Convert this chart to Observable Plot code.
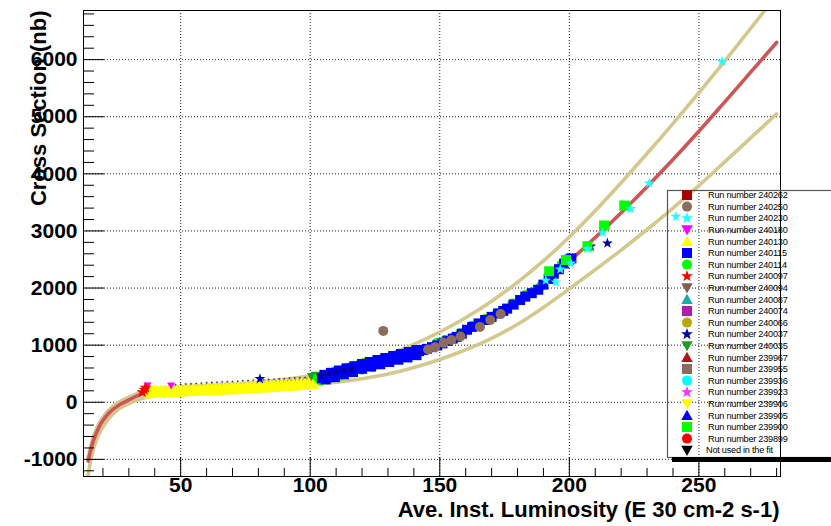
<!DOCTYPE html>
<html><head><meta charset="utf-8">
<script src="https://cdn.jsdelivr.net/npm/d3@7"></script>
<script src="https://cdn.jsdelivr.net/npm/@observablehq/plot@0.6"></script>
<style>
body{margin:0;background:#fff;}
#wrap{position:relative;width:831px;height:526px;overflow:hidden;background:#fff;}
#wrap svg.legend{position:absolute;left:0;top:0;pointer-events:none;}
</style></head><body><div id="wrap"></div>
<script>
// ---------- tick labels ----------
const xMajor = [50, 100, 150, 200, 250];
const xMinor = [20, 30, 40, 60, 70, 80, 90, 110, 120, 130, 140, 160, 170, 180, 190, 210, 220, 230, 240, 260, 270, 280];
const yMajor = [-1000, 0, 1000, 2000, 3000, 4000, 5000, 6000];
const yMinor = [-1200, -800, -600, -400, -200, 200, 400, 600, 800, 1200, 1400, 1600, 1800, 2200, 2400, 2600, 2800, 3200, 3400, 3600, 3800, 4200, 4400, 4600, 4800, 5200, 5400, 5600, 5800, 6200, 6400, 6600, 6800];
const xTitle = "Ave. Inst. Luminosity (E 30 cm-2 s-1)";
const yTitle = "Cross Section (nb)";

// ---------- fit curves ----------
const fitX = [14.3, 15, 16, 17, 18, 19, 20, 22, 24, 26, 28, 30, 32, 35, 38, 42, 46, 50, 60, 70, 80, 90, 100, 110, 120, 130, 140, 150, 160, 170, 180, 190, 200, 210, 220, 230, 240, 250, 260, 270, 280];
const fitY = [-1030, -890, -720, -590, -480, -390, -320, -205, -120, -55, -5, 40, 85, 145, 178, 203, 217, 228, 252, 276, 305, 345, 400, 480, 590, 720, 860, 1020, 1220, 1460, 1740, 2080, 2470, 2885, 3320, 3775, 4250, 4745, 5260, 5780, 6300];
const upperX = [14.3, 15, 16, 17, 18, 19, 20, 22, 24, 26, 28, 30, 32, 35, 38, 42, 46, 50, 60, 70, 80, 90, 100, 110, 120, 130, 140, 150, 160, 170, 180, 190, 200, 210, 220, 230, 240, 250, 260, 270, 280];
const upperY = [-960, -820, -650, -520, -415, -330, -262, -150, -68, -5, 45, 90, 130, 180, 212, 237, 252, 265, 292, 320, 355, 400, 465, 560, 685, 835, 1015, 1230, 1480, 1770, 2100, 2475, 2895, 3355, 3845, 4355, 4880, 5420, 5975, 6545, 7130];
const lowerX = [14.2, 15, 16, 17, 18, 19, 20, 22, 24, 26, 28, 30, 32, 35, 38, 42, 46, 50, 60, 70, 80, 90, 100, 110, 120, 130, 140, 150, 160, 170, 180, 190, 200, 210, 220, 230, 240, 250, 260, 270, 280];
const lowerY = [-1300, -1080, -880, -730, -610, -510, -435, -300, -200, -125, -70, -25, 15, 65, 100, 130, 150, 165, 195, 222, 248, 275, 305, 350, 412, 495, 610, 750, 920, 1120, 1365, 1660, 1985, 2320, 2665, 3025, 3400, 3795, 4210, 4630, 5050];

// ---------- runs ----------
const run240130X = [37, 38, 39, 40, 41, 42.5, 44, 45.5, 47, 48.5, 50, 51.5, 53, 54.5, 56, 57.5, 59, 60.5, 62, 63.5, 65, 66.5, 68, 69.5, 71, 72.5, 74, 75.5, 77, 78.5, 80, 81.5, 83, 84.5, 86, 87.5, 89, 90.5, 92, 93.5, 95, 96.5, 98, 99.5, 101, 102.5, 104,
  38, 41, 44, 47, 50, 53, 56, 59, 62, 65, 68, 71, 74, 77, 80, 83, 86, 89, 92, 95, 98, 101];
const run240130Y = [200, 205, 208, 210, 212, 214, 216, 218, 220, 222, 225, 228, 231, 234, 237, 240, 243, 246, 249, 252, 256, 260, 263, 266, 270, 273, 277, 280, 284, 287, 291, 295, 299, 303, 307, 311, 315, 320, 325, 330, 335, 341, 347, 353, 360, 367, 375,
  150, 160, 165, 170, 175, 182, 188, 195, 200, 207, 213, 220, 228, 235, 242, 250, 258, 266, 275, 285, 296, 310];
const trailX = [46, 48, 50, 52, 54, 56, 58, 60, 62, 64, 66, 68, 70, 72, 74, 76, 78, 82, 84, 86, 88, 90, 92, 94, 96, 98, 100, 102];
const trailY = [300, 306, 312, 318, 323, 329, 334, 340, 345, 350, 355, 360, 365, 370, 376, 381, 387, 396, 400, 405, 410, 414, 419, 424, 429, 434, 440, 445];
const run240097X = [35.2, 36, 36.5];
const run240097Y = [175, 220, 255];
const run240180X = [37.2, 46.3];
const run240180Y = [292, 292];
const run240035X = [100.5, 102, 104];
const run240035Y = [450, 470, 455];
const run240114X = [103, 105, 107, 109, 111, 113, 115, 117, 119, 121, 123, 125, 127, 104, 108, 112, 116, 120, 124, 149, 152, 158, 162.5, 167.5, 172, 178, 183, 186, 189, 193.5, 197];
const run240114Y = [430, 470, 500, 530, 555, 580, 610, 635, 660, 690, 705, 730, 745, 380, 420, 470, 520, 570, 620, 1040, 1090, 1210, 1340, 1460, 1560, 1730, 1880, 1940, 2030, 2280, 2410];
const run240115X = [104.5, 106, 107.5, 109, 110.5, 112, 113.5, 115, 116.5, 118, 119.5, 121, 122.5, 124, 125.5, 127, 128.5, 130, 131.5, 133, 134.5, 136, 137.5, 139, 140.5, 142, 143.5, 145, 147, 149, 151, 153, 155, 156.5, 158.5, 160.5, 162.5, 165, 167.5, 170, 172.5, 174.5, 176, 178.5, 181, 183, 185.5, 188, 190, 192, 194, 196, 198, 200, 200.8,
  105.5, 108, 111, 114, 117, 120, 123, 126, 129, 132, 135, 138, 141, 106, 109.5, 113, 116.5, 120, 123.5, 127, 130.5, 134, 137.5, 141];
const run240115Y = [420, 445, 460, 480, 500, 520, 540, 560, 585, 605, 625, 645, 665, 680, 695, 715, 735, 750, 765, 785, 805, 820, 840, 855, 875, 895, 915, 935, 965, 995, 1030, 1075, 1115, 1145, 1200, 1270, 1320, 1380, 1440, 1495, 1555, 1600, 1640, 1710, 1790, 1850, 1910, 1970, 2060, 2160, 2250, 2330, 2430, 2500, 2520,
  480, 515, 555, 595, 630, 670, 705, 740, 775, 810, 845, 880, 915, 400, 440, 490, 530, 585, 625, 665, 705, 745, 785, 825];
const run240037X = [80.6, 104, 107, 110, 113, 116, 208.3, 214.7];
const run240037Y = [410, 470, 505, 525, 550, 580, 2730, 2785];
const run240250X = [128.2, 145.5, 148.2, 151.5, 154.5, 158, 165.5, 169.5, 173.5];
const run240250Y = [1250, 925, 965, 1040, 1090, 1150, 1320, 1440, 1545];
const run240230X = [190.9, 194.8, 196.5, 200.6, 207, 212.8, 223.7, 230.8, 241.1, 258.9];
const run240230Y = [2131, 2102, 2330, 2434, 2686, 2967, 3387, 3835, 3252, 5967];
const run239900X = [192.2, 198.7, 207, 213.4, 221.2];
const run239900Y = [2294, 2490, 2732, 3095, 3445];

// ---------- legend ----------
const legendLabels = ["Run number 240262", "Run number 240250", "Run number 240230", "Run number 240180", "Run number 240130", "Run number 240115", "Run number 240114", "Run number 240097", "Run number 240094", "Run number 240087", "Run number 240074", "Run number 240066", "Run number 240037", "Run number 240035", "Run number 239967", "Run number 239955", "Run number 239936", "Run number 239923", "Run number 239906", "Run number 239905", "Run number 239900", "Run number 239899", "Not used in the fit"];
const legendColors = ["#a80000", "#8c6d5c", "#22ffff", "#ff00ff", "#ffff00", "#0000ff", "#00ff00", "#ff0000", "#7d5e4d", "#1aabab", "#b01eb0", "#b9a90f", "#0000a8", "#1ea01e", "#b01515", "#8b6b5a", "#00ffff", "#ff33ff", "#ffff00", "#0000ff", "#00ff00", "#ff0000", "#000000"];
const legendShapes = ["square", "circle", "star", "down", "up", "square", "circle", "star", "down", "up", "square", "circle", "star", "down", "up", "square", "circle", "star", "down", "up", "square", "circle", "down"];

// ---------- symbols ----------
function shapePath(ctx, kind, R) {
  if (kind === "square") { ctx.rect(-R, -R, 2 * R, 2 * R); }
  else if (kind === "circle") { ctx.moveTo(R, 0); ctx.arc(0, 0, R, 0, 2 * Math.PI); }
  else if (kind === "up") { ctx.moveTo(0, -1.15 * R); ctx.lineTo(1.15 * R, 0.9 * R); ctx.lineTo(-1.15 * R, 0.9 * R); ctx.closePath(); }
  else if (kind === "down") { ctx.moveTo(0, 1.15 * R); ctx.lineTo(1.15 * R, -0.9 * R); ctx.lineTo(-1.15 * R, -0.9 * R); ctx.closePath(); }
  else if (kind === "star") {
    for (let k = 0; k < 10; k++) {
      const r = k % 2 === 0 ? 1.25 * R : 0.5 * R;
      const a = -Math.PI / 2 + k * Math.PI / 5;
      if (k === 0) ctx.moveTo(r * Math.cos(a), r * Math.sin(a)); else ctx.lineTo(r * Math.cos(a), r * Math.sin(a));
    }
    ctx.closePath();
  }
}
function sym(kind) { return { draw(ctx, size) { shapePath(ctx, kind, Math.sqrt(size / Math.PI)); } }; }

const W = 831, H = 526, mL = 83, mR = 51, mT = 10, mB = 50;
const frameW = W - mL - mR, frameH = H - mT - mB;
const FONT = "'Liberation Sans', Arial, Helvetica, sans-serif";

function series(X, Y, shape, color, r) {
  return Plot.dot(d3.range(X.length), { x: i => X[i], y: i => Y[i], symbol: sym(shape), r: r, fill: color, stroke: "none" });
}
function curve(X, Y, color) {
  return Plot.line(d3.range(X.length), { x: i => X[i], y: i => Y[i], stroke: color, strokeWidth: 3.6, curve: "catmull-rom", clip: true });
}

const chart = Plot.plot({
  width: W, height: H,
  marginLeft: mL, marginRight: mR, marginTop: mT, marginBottom: mB,
  style: { fontFamily: FONT, background: "white", overflow: "visible" },
  x: { domain: [12.5, 281.5], axis: null },
  y: { domain: [-1300, 6860], axis: null },
  marks: [
    Plot.ruleX(xMajor, { x: d => d, stroke: "#222", strokeDasharray: "1,2" }),
    Plot.ruleY(yMajor, { y: d => d, stroke: "#222", strokeDasharray: "1,2" }),
    curve(upperX, upperY, "#d3c88e"),
    curve(lowerX, lowerY, "#d3c88e"),
    curve(fitX, fitY, "#cd5555"),
    series(run240130X, run240130Y, "up", "#ffff00", 5),
    series(trailX, trailY, "star", "#30308a", 1.2),
    series(run240180X, run240180Y, "down", "#ff00ff", 3.5),
    series(run240097X, run240097Y, "star", "#ff0000", 5),
    series(run240035X, run240035Y, "down", "#1ea01e", 4),
    series(run240114X, run240114Y, "circle", "#00ff00", 5),
    series(run240115X, run240115Y, "square", "#0000ff", 5),
    series(run240037X, run240037Y, "star", "#0000a8", 4.5),
    series(run240250X, run240250Y, "circle", "#8c6d5c", 5),
    series(run239900X, run239900Y, "square", "#00ff00", 5),
    series(run240230X, run240230Y, "star", "#22ffff", 4.5),
    Plot.frame({ stroke: "black" }),
    Plot.ruleX(xMajor, { x: d => d, stroke: "black", insetTop: frameH - 19 }),
    Plot.ruleX(xMinor, { x: d => d, stroke: "black", insetTop: frameH - 8 }),
    Plot.ruleY(yMajor, { y: d => d, stroke: "black", insetRight: frameW - 21 }),
    Plot.ruleY(yMinor, { y: d => d, stroke: "black", insetRight: frameW - 11 }),
    Plot.text(xMajor, { x: d => d, frameAnchor: "bottom", text: d => String(d), dy: 15, fontSize: 21, fontWeight: "bold", fill: "black" }),
    Plot.text(yMajor, { y: d => d, frameAnchor: "left", text: d => String(d), textAnchor: "end", dx: -6, fontSize: 21, fontWeight: "bold", fill: "black" }),
    Plot.text([xTitle], { frameAnchor: "bottom-right", text: d => d, textAnchor: "end", dx: -1, dy: 40, fontSize: 22, fontWeight: "bold", fill: "black" }),
    Plot.text([yTitle], { frameAnchor: "top-left", text: d => d, textAnchor: "end", rotate: -90, dx: -53, dy: 0, fontSize: 22, fontWeight: "bold", fill: "black" })
  ]
});

const wrap = document.getElementById("wrap");
wrap.appendChild(chart);

// legend overlay (transparent box, as in the reference)
const lg = d3.select(wrap).append("svg").attr("class", "legend").attr("width", W).attr("height", H)
  .style("font-family", FONT);
lg.append("rect").attr("x", 667.5).attr("y", 190.5).attr("width", 200).attr("height", 267)
  .attr("fill", "none").attr("stroke", "#555").attr("stroke-width", 1.2);
lg.append("rect").attr("x", 672).attr("y", 457).attr("width", 170).attr("height", 5).attr("fill", "black");
const rows = lg.selectAll("g.row").data(legendLabels).join("g").attr("class", "row")
  .attr("transform", (d, i) => `translate(0,${195 + i * 11.6})`);
rows.append("path").attr("transform", "translate(687,0)")
  .attr("d", (d, i) => { const p = d3.path(); shapePath(p, legendShapes[i], 5); return p.toString(); })
  .attr("fill", (d, i) => legendColors[i]);
rows.append("text").attr("x", (d, i) => i === legendLabels.length - 1 ? 706 : 708).attr("y", 0)
  .attr("dy", "0.35em").attr("font-size", 9.2).attr("letter-spacing", -0.25).attr("fill", "black").text(d => d);
</script></body></html>
